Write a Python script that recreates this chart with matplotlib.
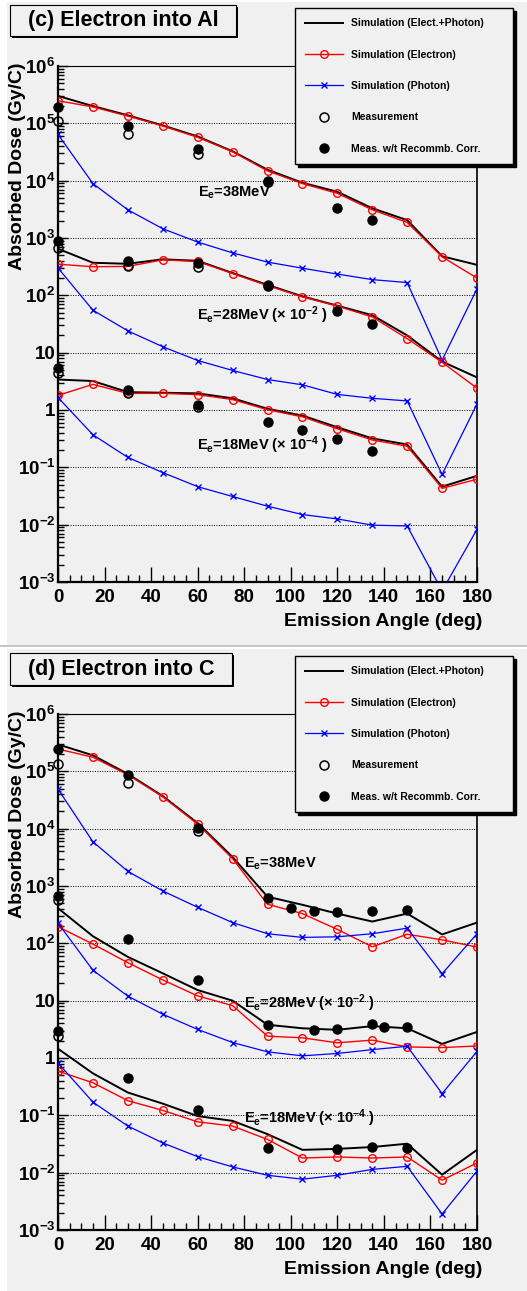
import matplotlib
matplotlib.use('Agg')
import matplotlib.pyplot as plt
from matplotlib.patches import Rectangle
from matplotlib.ticker import FixedLocator, FixedFormatter, LogLocator, MultipleLocator, NullFormatter

plt.rcParams['font.family'] = ['Liberation Sans', 'DejaVu Sans']
plt.rcParams['font.weight'] = 'bold'
plt.rcParams['mathtext.fontset'] = 'custom'
plt.rcParams['mathtext.rm'] = 'Liberation Sans:bold'
plt.rcParams['mathtext.bf'] = 'Liberation Sans:bold'
plt.rcParams['mathtext.it'] = 'Liberation Sans:bold'
plt.rcParams['mathtext.default'] = 'bf'

# ---------------- data ----------------
ANGLES = [0, 15, 30, 45, 60, 75, 90, 105, 120, 135, 150, 165, 180]

# (c) Electron into Al
al38_total = [3.0e5, 2.0e5, 1.38e5, 9.2e4, 5.9e4, 3.25e4, 1.55e4, 9.2e3, 6.4e3, 3.3e3, 2.05e3, 480, 340]
al38_elec = [2.48e5, 1.93e5, 1.34e5, 9.0e4, 5.7e4, 3.2e4, 1.48e4, 8.9e3, 6.0e3, 3.1e3, 1.87e3, 470, 200]
al38_phot = [6.4e4, 8.9e3, 3.1e3, 1.45e3, 850, 550, 380, 297, 235, 188, 167, 7.4, 130]
al38_meas_x = [0, 30, 60, 90]
al38_meas = [1.1e5, 6.5e4, 2.9e4, 9.5e3]
al38_corr_x = [0, 30, 60, 90, 120, 135]
al38_corr = [1.9e5, 9.0e4, 3.6e4, 1.0e4, 3.4e3, 2.1e3]

al28_total = [650, 370, 355, 425, 400, 245, 152, 96, 66, 45, 20, 7.0, 3.7]
al28_elec = [350, 315, 320, 415, 390, 240, 148, 94, 65, 42, 17.6, 6.8, 2.4]
al28_phot = [300, 55, 24, 12.7, 7.3, 4.9, 3.4, 2.75, 1.87, 1.6, 1.44, 0.075, 1.27]
al28_meas_x = [0, 30, 60, 90]
al28_meas = [680, 330, 315, 145]
al28_corr_x = [0, 30, 60, 90, 120, 135]
al28_corr = [870, 390, 360, 150, 54, 32]

al18_total = [3.4, 3.2, 2.05, 2.0, 1.95, 1.6, 1.05, 0.8, 0.5, 0.32, 0.25, 0.046, 0.071]
al18_elec = [1.8, 2.8, 1.95, 1.95, 1.85, 1.52, 1.01, 0.76, 0.47, 0.30, 0.233, 0.043, 0.062]
al18_phot = [1.65, 0.37, 0.149, 0.081, 0.046, 0.031, 0.021, 0.015, 0.0126, 0.0098, 0.0095, 7e-4, 0.0083]
al18_meas_x = [0, 30, 60]
al18_meas = [4.4, 2.0, 1.14]
al18_corr_x = [0, 30, 60, 90, 105, 120, 135]
al18_corr = [5.5, 2.24, 1.23, 0.63, 0.44, 0.31, 0.19]

# (d) Electron into C
c38_total = [2.95e5, 1.9e5, 9.0e4, 3.7e4, 1.25e4, 3.2e3, 650, 470, 330, 240, 330, 143, 230]
c38_elec = [2.45e5, 1.76e5, 8.7e4, 3.6e4, 1.2e4, 3.0e3, 480, 330, 175, 87, 144, 115, 86]
c38_phot = [4.9e4, 5.9e3, 1.8e3, 820, 425, 230, 147, 127, 130, 147, 184, 29.5, 147]
c38_meas_x = [0, 30, 60]
c38_meas = [1.32e5, 6.2e4, 9.2e3]
c38_corr_x = [0, 30, 60, 90, 100, 110, 120, 135, 150]
c38_corr = [2.45e5, 8.8e4, 1.03e4, 630, 420, 365, 350, 365, 375]

c28_total = [410, 133, 58, 30, 15.3, 10, 3.8, 3.3, 3.1, 3.6, 3.3, 1.76, 2.85]
c28_elec = [195, 97, 46, 23, 12.1, 8.2, 2.4, 2.25, 1.84, 2.05, 1.56, 1.52, 1.62]
c28_phot = [225, 34, 12, 5.8, 3.15, 1.86, 1.28, 1.09, 1.2, 1.4, 1.6, 0.24, 1.3]
c28_meas_x = [0]
c28_meas = [560]
c28_corr_x = [0, 30, 60, 90, 110, 120, 135, 140, 150]
c28_corr = [680, 118, 23, 3.7, 3.1, 3.2, 3.9, 3.5, 3.5]

c18_total = [1.45, 0.54, 0.25, 0.16, 0.097, 0.08, 0.047, 0.025, 0.026, 0.028, 0.032, 0.0092, 0.025]
c18_elec = [0.59, 0.37, 0.18, 0.122, 0.077, 0.065, 0.038, 0.018, 0.0188, 0.018, 0.0188, 0.0074, 0.0148]
c18_phot = [0.82, 0.17, 0.065, 0.033, 0.019, 0.0126, 0.009, 0.0077, 0.009, 0.0114, 0.0129, 0.0019, 0.0107]
c18_meas_x = [0]
c18_meas = [2.4]
c18_corr_x = [0, 30, 60, 90, 120, 135, 150]
c18_corr = [2.95, 0.44, 0.126, 0.027, 0.026, 0.028, 0.027]

Y_TICKS = [1e-3, 1e-2, 1e-1, 1, 10, 1e2, 1e3, 1e4, 1e5, 1e6]
Y_TICK_LABELS = [r'$10^{-3}$', r'$10^{-2}$', r'$10^{-1}$', '1', '10',
                 r'$10^{2}$', r'$10^{3}$', r'$10^{4}$', r'$10^{5}$', r'$10^{6}$']
X_TICKS = [0, 20, 40, 60, 80, 100, 120, 140, 160, 180]

LEGEND_LABELS = ['Simulation (Elect.+Photon)', 'Simulation (Electron)',
                 'Simulation (Photon)', 'Measurement', 'Meas. w/t Recommb. Corr.']
ENERGY_LABELS = ['E$_{e}$=38MeV', 'E$_{e}$=28MeV (× 10$^{-2}$ )', 'E$_{e}$=18MeV (× 10$^{-4}$ )']

# ---------------- layout ----------------
W, H = 527, 1291
BG = '#f0f0f0'
fig = plt.figure(figsize=(W / 100, H / 100), dpi=100, facecolor='white')


def fx(x):
    return x / W


def fy(y):
    return 1 - y / H


def frect(x0, y0, x1, y1, **kw):
    r = Rectangle((fx(x0), fy(y1)), (x1 - x0) / W, (y1 - y0) / H,
                  transform=fig.transFigure, **kw)
    fig.patches.append(r)
    return r


# panel backgrounds and separator
frect(7, 2, 527, 645, facecolor=BG, edgecolor='none', zorder=-10)
frect(0, 645, 527, 647, facecolor='#c4c4c4', edgecolor='none', zorder=-10)
frect(7, 649, 527, 1291, facecolor=BG, edgecolor='none', zorder=-10)


def make_panel(top, title, title_box, series, labels_pos, legend_top):
    ax = fig.add_axes([fx(58), fy(top + 516), 419 / W, 516 / H])
    ax.set_facecolor(BG)
    ax.set_yscale('log')
    ax.set_xlim(0, 180)
    ax.set_ylim(1e-3, 1e6)
    handles = None
    for (tot, ele, pho, mx, mv, cx, cv) in series:
        h1, = ax.plot(ANGLES, tot, color='black', lw=1.4, zorder=3)
        h2, = ax.plot(ANGLES, ele, color='red', lw=1.0, marker='o', ms=5.5,
                      mfc='none', mec='red', mew=1.0, zorder=4)
        h3, = ax.plot(ANGLES, pho, color='blue', lw=0.9, marker='x', ms=5,
                      mew=1.0, zorder=4)
        h4, = ax.plot(mx, mv, ls='none', marker='o', ms=6.5, mfc='none',
                      mec='black', mew=1.1, zorder=6, clip_on=False)
        h5, = ax.plot(cx, cv, ls='none', marker='o', ms=6.5, color='black',
                      zorder=7, clip_on=False)
        handles = [h1, h2, h3, h4, h5]

    ax.yaxis.set_major_locator(FixedLocator(Y_TICKS))
    ax.yaxis.set_major_formatter(FixedFormatter(Y_TICK_LABELS))
    ax.yaxis.set_minor_locator(LogLocator(base=10, subs=range(2, 10), numticks=20))
    ax.yaxis.set_minor_formatter(NullFormatter())
    ax.xaxis.set_major_locator(FixedLocator(X_TICKS))
    ax.xaxis.set_minor_locator(MultipleLocator(5))

    ax.tick_params(axis='x', which='major', direction='in', length=10.5, width=1.0,
                   labelsize=13.5, pad=5, top=False)
    ax.tick_params(axis='x', which='minor', direction='in', length=5, width=1.0, top=False)
    ax.tick_params(axis='y', which='major', direction='in', length=7, width=1.0,
                   labelsize=13.5, pad=2, right=False)
    ax.tick_params(axis='y', which='minor', direction='in', length=4, width=1.0, right=False)
    for lab in ax.get_xticklabels() + ax.get_yticklabels():
        lab.set_fontweight('bold')

    ax.grid(axis='y', which='major', linestyle=(0, (1, 1.5)), color='black', lw=0.7)
    ax.set_axisbelow(True)
    ax.spines['left'].set_linewidth(1.6)
    ax.spines['bottom'].set_linewidth(1.6)
    ax.spines['right'].set_linewidth(1.2)
    ax.spines['top'].set_linewidth(0.8)

    # energy labels
    for txt, (x, y) in zip(ENERGY_LABELS, labels_pos):
        ax.text(x, y, txt, fontsize=10.5, fontweight='bold', ha='left', va='center', zorder=8)

    # axis titles
    fig.text(fx(18), fy(top - 4), 'Absorbed Dose (Gy/C)', rotation=90, ha='center',
             va='top', fontsize=14, fontweight='bold')
    fig.text(fx(482), fy(top + 556), 'Emission Angle (deg)', ha='right', va='center',
             fontsize=14, fontweight='bold')

    # title box
    x0, y0, x1, y1 = title_box
    frect(x0 + 2, y0 + 2, x1 + 2, y1 + 2, facecolor='black', edgecolor='none', zorder=1)
    frect(x0, y0, x1, y1, facecolor=BG, edgecolor='black', lw=0.8, zorder=2)
    fig.text(fx((x0 + x1) / 2), fy((y0 + y1) / 2), title, ha='center', va='center',
             fontsize=15.5, fontweight='bold', zorder=3)

    # legend
    leg = ax.legend(handles, LEGEND_LABELS, loc='upper left',
                    bbox_to_anchor=(fx(295), fy(legend_top + 152), 218 / W, 152 / H),
                    bbox_transform=fig.transFigure, mode='expand',
                    prop=dict(size=7.5, weight='bold'), frameon=True, fancybox=False,
                    edgecolor='black', facecolor=BG, framealpha=1,
                    shadow={'color': 'black', 'alpha': 1, 'ox': 2.2, 'oy': -2.2},
                    borderpad=1.0, labelspacing=2.05, handlelength=3.6,
                    handletextpad=0.8, borderaxespad=0, numpoints=1)
    leg.get_frame().set_linewidth(1.0)
    leg.set_zorder(20)
    return ax


make_panel(
    66, '(c) Electron into Al', (10, 5, 236, 36),
    [
        (al38_total, al38_elec, al38_phot, al38_meas_x, al38_meas, al38_corr_x, al38_corr),
        (al28_total, al28_elec, al28_phot, al28_meas_x, al28_meas, al28_corr_x, al28_corr),
        (al18_total, al18_elec, al18_phot, al18_meas_x, al18_meas, al18_corr_x, al18_corr),
    ],
    [(60.1, 6.1e3), (59.7, 45), (59.7, 0.245)],
    8,
)

make_panel(
    714, '(d) Electron into C', (10, 653, 232, 685),
    [
        (c38_total, c38_elec, c38_phot, c38_meas_x, c38_meas, c38_corr_x, c38_corr),
        (c28_total, c28_elec, c28_phot, c28_meas_x, c28_meas, c28_corr_x, c28_corr),
        (c18_total, c18_elec, c18_phot, c18_meas_x, c18_meas, c18_corr_x, c18_corr),
    ],
    [(79.9, 2.4e3), (79.9, 9.1), (79.9, 0.09)],
    656,
)

fig.savefig('out.png', dpi=100, facecolor='white')
